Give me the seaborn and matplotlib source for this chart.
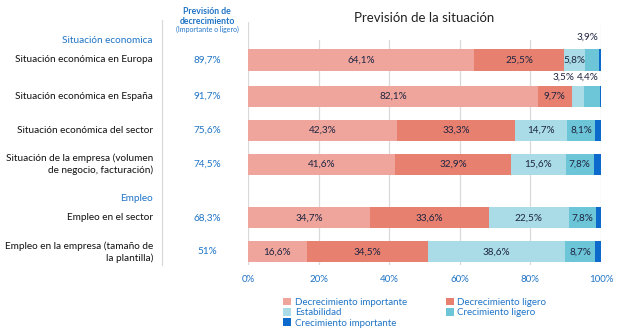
import numpy as np
import pandas as pd
import matplotlib
matplotlib.use("Agg")
import matplotlib.pyplot as plt
import matplotlib.transforms as mtransforms
from matplotlib.patches import Patch
from matplotlib.lines import Line2D
import seaborn as sns

# ---------------- data ----------------
categories = [
    "Situación económica en Europa",
    "Situación económica en España",
    "Situación económica del sector",
    "Situación de la empresa (volumen\nde negocio, facturación)",
    "Empleo en el sector",
    "Empleo en la empresa (tamaño de\nla plantilla)",
]
series_names = ["Decrecimiento importante", "Decrecimiento ligero", "Estabilidad",
                "Crecimiento ligero", "Crecimiento importante"]
decr_importante = [64.1, 82.1, 42.3, 41.6, 34.7, 16.6]
decr_ligero = [25.5, 9.7, 33.3, 32.9, 33.6, 34.5]
estabilidad = [5.8, 3.5, 14.7, 15.6, 22.5, 38.6]
crec_ligero = [3.9, 4.4, 8.1, 7.8, 7.8, 8.7]
crec_importante = [0.7, 0.3, 1.6, 2.1, 1.4, 1.6]
prevision_decrecimiento = [89.7, 91.7, 75.6, 74.5, 68.3, 51]
group_headers = ["Situación economica", "Empleo"]
x_ticks = [0, 20, 40, 60, 80, 100]
title = "Previsión de la situación"
col_header = "Previsión de\ndecrecimiento"
col_subheader = "(Importante o ligero)"

# ---------------- style / layout ----------------
colors = ["#EFA59B", "#E8806F", "#A9DCE6", "#6DC5D8", "#0B6ACB"]
blue_txt = "#1F74C6"
dark_txt = "#1E2542"
row_pos = [0, 1.04, 2.02, 3.0, 4.55, 5.53]
header_pos = [-0.55, 4.0]
FONT = ["Lato", "DejaVu Sans"]

sns.set_theme(style="white")
plt.rcParams["font.family"] = FONT

W, H = 624, 336
fig = plt.figure(figsize=(W / 100, H / 100), dpi=100)
ax_left, ax_right, ax_top, ax_bot = 248, 601, 22, 265
ax = fig.add_axes([ax_left / W, 1 - ax_bot / H, (ax_right - ax_left) / W, (ax_bot - ax_top) / H])

series = [decr_importante, decr_ligero, estabilidad, crec_ligero, crec_importante]
df = pd.DataFrame({name: vals for name, vals in zip(series_names, series)})
df["pos"] = row_pos
cum = df[series_names].cumsum(axis=1)

for i in reversed(range(len(series_names))):
    d = pd.DataFrame({"val": cum[series_names[i]], "pos": df["pos"]})
    sns.barplot(data=d, x="val", y="pos", orient="y", native_scale=True,
                color=colors[i], saturation=1, width=0.62, linewidth=0,
                edgecolor="none", ax=ax, zorder=3)

unit_px = 34.7
ylim_top = row_pos[0] - (60 - ax_top) / unit_px
ylim_bot = row_pos[0] + (ax_bot - 60) / unit_px
ax.set_ylim(ylim_bot, ylim_top)
ax.set_xlim(0, 100)
for s in ax.spines.values():
    s.set_visible(False)
ax.set_yticks([])
ax.set_xlabel("")
ax.set_ylabel("")
ax.set_xticks(x_ticks)
ax.set_xticklabels([f"{t}%" for t in x_ticks], color=blue_txt, fontsize=7)
ax.tick_params(axis="x", length=0, pad=7)
ax.grid(False)

gfrac = (ax_bot - 40) / (ax_bot - ax_top)
for t in x_ticks:
    ax.axvline(t, ymin=0, ymax=1 if t in (0, 100) else gfrac, color="#D9D9D9", lw=0.9, zorder=1)


def fmt(v):
    return f"{v:g}".replace(".", ",") + "%"


VFS = 7.2
# value labels
for r in range(len(categories)):
    left = 0
    for i, name in enumerate(series_names):
        v = df[name].iloc[r]
        c = left + v / 2
        left += v
        y = row_pos[r]
        if i == 4:
            continue
        if r == 0 and i == 3:
            ax.text(99.2, y - 0.65, fmt(v), ha="right", va="center", fontsize=VFS, color=dark_txt)
            continue
        if r == 1 and i == 2:
            ax.text(92.6, y - 0.55, fmt(v), ha="right", va="center", fontsize=VFS, color=dark_txt)
            continue
        if r == 1 and i == 3:
            ax.text(99.4, y - 0.55, fmt(v), ha="right", va="center", fontsize=VFS, color=dark_txt)
            continue
        ax.text(c, y, fmt(v), ha="center", va="center", fontsize=VFS, color=dark_txt, zorder=5)

tr = mtransforms.blended_transform_factory(fig.transFigure, ax.transData)
for r, cat in enumerate(categories):
    ax.text(153 / W, row_pos[r], cat, transform=tr, ha="right", va="center",
            fontsize=7.2, color="#111111", linespacing=1.35)
    ax.text(207 / W, row_pos[r], fmt(prevision_decrecimiento[r]), transform=tr,
            ha="center", va="center", fontsize=7.2, color=blue_txt)
for hname, hp in zip(group_headers, header_pos):
    ax.text(153 / W, hp, hname, transform=tr, ha="right", va="center",
            fontsize=7.2, color=blue_txt)

# column header
fig.text(207 / W, 1 - 16.5 / H, col_header, ha="center", va="center", fontsize=6.3,
         color=blue_txt, fontweight="bold", linespacing=1.1)
fig.text(207 / W, 1 - 29.5 / H, col_subheader, ha="center", va="center", fontsize=5,
         color=blue_txt)

# title
fig.text((ax_left + ax_right) / 2 / W, 1 - 18 / H, title, ha="center", va="center",
         fontsize=9.5, color="#222222")

# separator line
fig.add_artist(Line2D([162 / W, 162 / W], [1 - 20 / H, 1 - 265 / H],
                      transform=fig.transFigure, color="#D9D9D9", lw=0.9))

# legend (row-major order)
order = [0, 2, 4, 1, 3]
handles = [Patch(facecolor=colors[i], edgecolor="none") for i in order]
labels = [series_names[i] for i in order]
fig.legend(handles, labels, loc="upper left", bbox_to_anchor=(283 / W, 1 - 297.5 / H),
           ncol=2, frameon=False, fontsize=7, handlelength=0.85, handleheight=0.85,
           handletextpad=0.35, columnspacing=4.0, labelspacing=0.12, borderpad=0,
           borderaxespad=0, labelcolor=blue_txt)

fig.savefig("out.png", dpi=100)
